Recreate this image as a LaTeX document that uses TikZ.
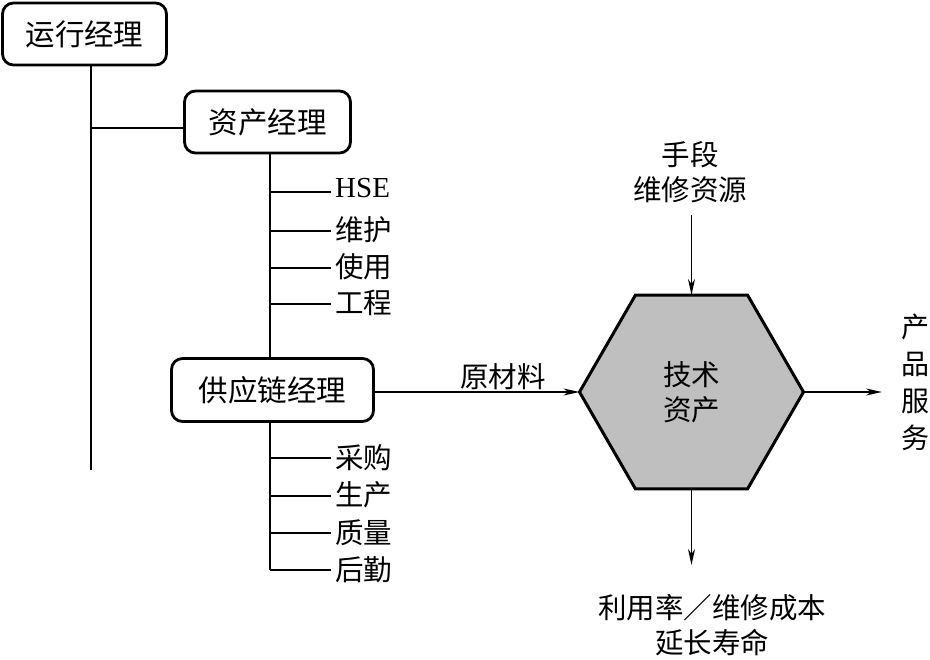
\documentclass[tikz,border=0pt]{standalone}
\usepackage{fontspec}
\setmainfont{Noto Sans CJK SC}
\newfontfamily\lserif{Liberation Serif}
\usetikzlibrary{shapes.geometric,arrows.meta}
\begin{document}
\begin{tikzpicture}[x=1pt,y=-1pt,
  txt/.style={font={\fontsize{28.5}{35}\selectfont},inner sep=0pt,align=center},
  mgr/.style={draw,line width=2.8pt,rounded corners=11pt,fill=white,inner sep=0pt,
    font={\fontsize{29.5}{35}\selectfont}},
  item/.style={anchor=west,inner xsep=4pt,inner ysep=0pt,font={\fontsize{28.5}{35}\selectfont}},
  ln/.style={line width=1.4pt},
  arr/.style={line width=1.4pt,-{Stealth[length=16pt,width=7pt,inset=5pt]}}]
\useasboundingbox (0,0) rectangle (930,660);
% manager boxes
\node[mgr,minimum width=164pt,minimum height=62pt] (yx) at (84.5,34) {运行经理};
\node[mgr,minimum width=166pt,minimum height=62pt] (zc) at (267.5,122) {资产经理};
\node[mgr,minimum width=202pt,minimum height=63pt] (gy) at (272.5,390) {供应链经理};
% tree coordinates
\coordinate (t1) at (91,470);
\coordinate (t1b) at (91,128);
\coordinate (t2) at (270,570);
\draw[ln] (yx.south -| t1) -- (t1);
\draw[ln] (t1b) -- (zc.west |- t1b);
\draw[ln] (zc.south -| t2) -- (gy.north -| t2);
\draw[ln] (gy.south -| t2) -- (t2);
% list items
\node[item,font={\lserif\fontsize{29}{35}\selectfont}] (i1) at (331,188) {HSE};
\node[item] (i2) at (331,230) {维护};
\node[item] (i3) at (331,267) {使用};
\node[item] (i4) at (331,303) {工程};
\node[item] (i5) at (331,458) {采购};
\node[item] (i6) at (331,495) {生产};
\node[item] (i7) at (331,533) {质量};
\node[item] (i8) at (331,570) {后勤};
\foreach \i/\y in {1/192,2/231,3/268,4/304,5/458,6/496,7/533,8/570}
  \draw[ln] (270,\y) -- (i\i.west |- 0,\y);
% hexagon
\node[regular polygon,regular polygon sides=6,draw,line width=3pt,fill=black!25,
  minimum size=224pt,inner sep=0pt,outer sep=0pt] (hex) at (691.5,392) {};
\node[txt] (hexlab) at (hex.center) {技术\\资产};
% arrows
\coordinate (tin) at (691.5,215);
\coordinate (bout) at (691.5,565);
\coordinate (rout) at (882,392);
\draw[arr] (tin) -- (hex.north);
\draw[arr] (hex.south) -- (bout);
\draw[arr] (hex.east) -- (rout);
\draw[arr] (gy.east |- hex.west) -- (hex.west);
% labels
\node[txt] (lraw) at (503,377) {原材料};
\node[txt] (ltop) at (690,172) {手段\\维修资源};
\node[txt] (lbot) at (712,625) {利用率／维修成本\\延长寿命};
\node[txt,font={\fontsize{28}{37}\selectfont}] (lright) at (915,382) {产\\品\\服\\务};
\end{tikzpicture}
\end{document}
